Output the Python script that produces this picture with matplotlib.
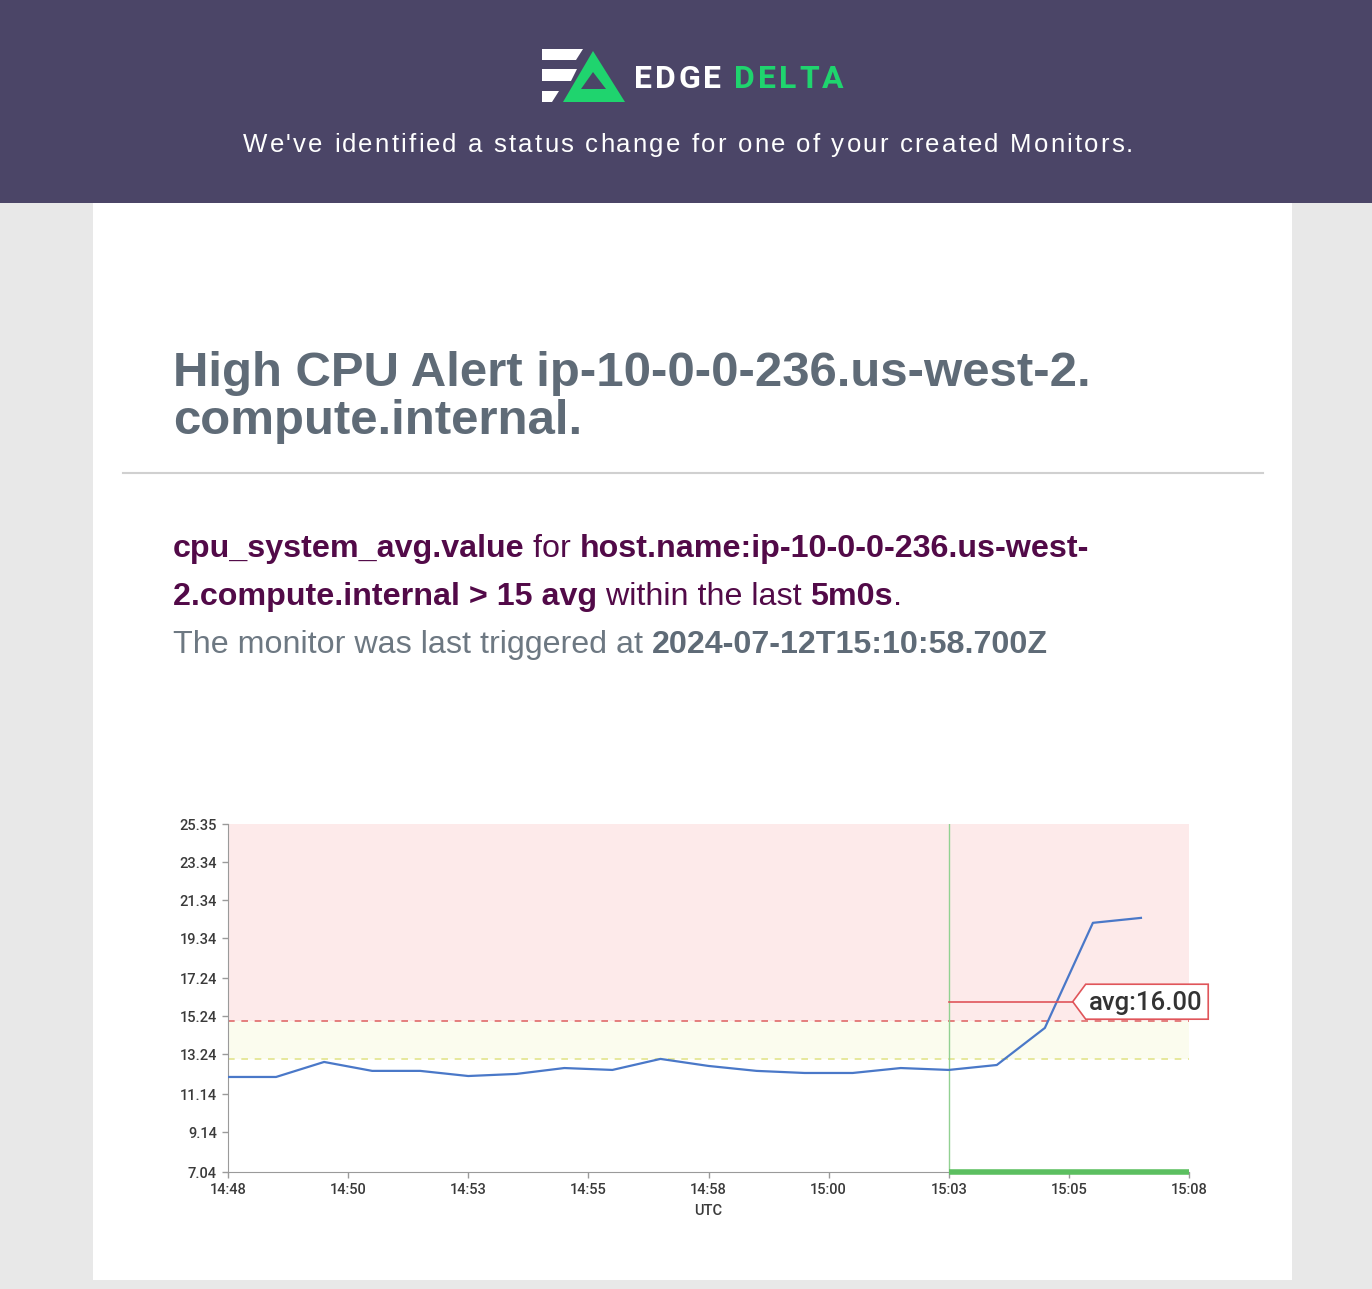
import matplotlib
matplotlib.use("Agg")
import matplotlib.pyplot as plt
from matplotlib.font_manager import FontProperties, findfont, get_font
from matplotlib.patches import Polygon, Rectangle

W, H, DPI = 1372, 1289, 100

# data: one point per minute, starting at 14:48
minutes = list(range(20))
cpu_avg = [12.04, 12.04, 12.83, 12.36, 12.36, 12.09, 12.20, 12.51, 12.41, 12.99,
           12.62, 12.36, 12.25, 12.25, 12.51, 12.41, 12.67, 14.62, 20.15, 20.41]
y_ticks = [7.04, 9.14, 11.14, 13.24, 15.24, 17.24, 19.34, 21.34, 23.34, 25.35]
x_ticks = [0, 2.5, 5, 7.5, 10, 12.5, 15, 17.5, 20]
x_labels = ["14:48", "14:50", "14:53", "14:55", "14:58", "15:00", "15:03", "15:05", "15:08"]
alert_threshold = 15
warn_threshold = 13
alert_start = 15      # 15:03
alert_end = 20        # 15:08
avg_value = 16.00

HEADER = "#4b4567"
PURPLE = "#520a48"
SLATE = "#5f6b77"
GRAY_TXT = "#6d7882"


def advance(s, size, weight="normal", family="Liberation Sans"):
    font = get_font(findfont(FontProperties(family=family, weight=weight)))
    font.set_size(size, DPI)
    return sum(font.load_char(ord(c)).linearHoriAdvance for c in s) / 65536


def runs(ax, x, y, parts, size, family="Liberation Sans", tracking=0.0):
    # parts: (text, colour, weight); drawn one after another on a baseline
    for s, color, weight in parts:
        pieces = list(s) if tracking else [s]
        for p in pieces:
            ax.text(x, y, p, color=color, fontsize=size, fontweight=weight,
                    family=family, ha="left", va="baseline")
            x += advance(p, size, weight, family) + tracking


def fit(parts, width, family="Liberation Sans", base=20):
    w = sum(advance(s, base, wt, family) for s, _, wt in parts)
    return base * width / w


def spread(parts, size, width, family="Liberation Sans"):
    n = sum(len(s) for s, _, _ in parts)
    nat = sum(advance(s, size, wt, family) for s, _, wt in parts)
    return (width - nat) / (n - 1)


fig = plt.figure(figsize=(W / DPI, H / DPI), dpi=DPI)
fig.patch.set_facecolor("#e8e8e8")

bg = fig.add_axes([0, 0, 1, 1], zorder=0)
bg.set_xlim(0, W)
bg.set_ylim(H, 0)
bg.axis("off")

bg.add_patch(Rectangle((0, 0), W, 203, color=HEADER, lw=0))
bg.add_patch(Rectangle((93, 203), 1199, 1077, color="white", lw=0))
bg.plot([123, 1263], [473, 473], color="#d0d0d0", lw=1.5)

# logo
for pts in ([(542, 49), (583, 49), (576, 60), (542, 60)],
            [(542, 69), (577, 69), (571, 81), (542, 81)],
            [(542, 91), (559, 91), (552, 102), (542, 102)]):
    bg.add_patch(Polygon(pts, closed=True, color="white", lw=0))
bg.add_patch(Polygon([(593, 51), (563, 102), (625, 102)], closed=True, color="#1fd46e", lw=0))
bg.add_patch(Polygon([(593, 72), (581, 89), (606, 89)], closed=True, color=HEADER, lw=0))

logo = [("EDGE ", "white", "bold"), ("DELTA", "#1fd46e", "bold")]
runs(bg, 634, 88, logo, 23, family="Roboto", tracking=spread(logo, 23, 209, "Roboto"))

sub = [("We've identified a status change for one of your created Monitors.", "white", "normal")]
runs(bg, 243, 152, sub, 18.5, tracking=spread(sub, 18.5, 890))

# title
t1 = [("High CPU Alert ip-10-0-0-236.us-west-2.", SLATE, "bold")]
ts = fit(t1, 918)
runs(bg, 173, 386, t1, ts)
runs(bg, 173, 434, [("compute.internal.", SLATE, "bold")], ts)

# description
p1 = [("cpu_system_avg.value", PURPLE, "bold"), (" for ", PURPLE, "normal"),
      ("host.name:ip-10-0-0-236.us-west-", PURPLE, "bold")]
p2 = [("2.compute.internal > 15 avg", PURPLE, "bold"), (" within the last ", PURPLE, "normal"),
      ("5m0s", PURPLE, "bold"), (".", PURPLE, "normal")]
p3 = [("The monitor was last triggered at ", GRAY_TXT, "normal"),
      ("2024-07-12T15:10:58.700Z", SLATE, "bold")]
ps = fit(p1, 916)
runs(bg, 173, 557, p1, ps)
runs(bg, 173, 605, p2, ps)
runs(bg, 173, 653, p3, ps)

# chart
ax = fig.add_axes([228 / W, 1 - 1172 / H, 961 / W, 348 / H], zorder=1)
ax.set_facecolor("none")
ax.set_xlim(0, 20)
ax.set_ylim(y_ticks[0], y_ticks[-1])

ax.axhspan(alert_threshold, y_ticks[-1], color="#fdeaea", lw=0, zorder=0)
ax.axhspan(warn_threshold, alert_threshold, color="#fbfcee", lw=0, zorder=0)
ax.axhline(alert_threshold, color="#e06a6a", ls=(0, (4, 4)), lw=1.2, zorder=1)
ax.axhline(warn_threshold, color="#e2e48c", ls=(0, (4, 4)), lw=1.2, zorder=1)
ax.axvline(alert_start, color="#92d192", lw=1, zorder=1)
ax.plot(minutes, cpu_avg, color="#4a78c8", lw=1.6, zorder=3)
ax.plot([alert_start, alert_end], [y_ticks[0], y_ticks[0]], color="#5cbf60", lw=4,
        solid_capstyle="butt", clip_on=False, zorder=4)

# avg label
tip_x, box_l, box_r = 17.58, 17.85, 20.4
half = 0.92
ax.plot([alert_start, tip_x], [avg_value, avg_value], color="#e0555a", lw=1.2, zorder=4)
ax.add_patch(Polygon([(tip_x, avg_value), (box_l, avg_value + half), (box_r, avg_value + half),
                      (box_r, avg_value - half), (box_l, avg_value - half)],
                     closed=True, facecolor="white", edgecolor="#e0555a", lw=1.2,
                     clip_on=False, zorder=5))
ax.text((box_l + box_r) / 2 - 0.03, avg_value - 0.05, f"avg:{avg_value:.2f}", ha="center",
        va="center", fontsize=18.5, family="Roboto", fontweight="medium", color="#333333",
        zorder=6)

ax.set_yticks(y_ticks)
ax.set_yticklabels([f"{v:.2f}" for v in y_ticks])
ax.set_xticks(x_ticks)
ax.set_xticklabels(x_labels)
for sp in ("top", "right"):
    ax.spines[sp].set_visible(False)
for sp in ("left", "bottom"):
    ax.spines[sp].set_color("#9a9a9a")
ax.tick_params(length=4, width=1, color="#9a9a9a", labelsize=10.5, labelcolor="#3a3a3a")
ax.tick_params(axis="y", pad=4)
ax.tick_params(axis="x", pad=4)
for lab in ax.get_xticklabels() + ax.get_yticklabels():
    lab.set_family("Roboto")
    lab.set_fontweight("medium")
ax.set_xlabel("UTC", fontsize=10.5, family="Roboto", fontweight="medium",
              color="#3a3a3a", labelpad=5)

fig.savefig("out.png", dpi=DPI)
